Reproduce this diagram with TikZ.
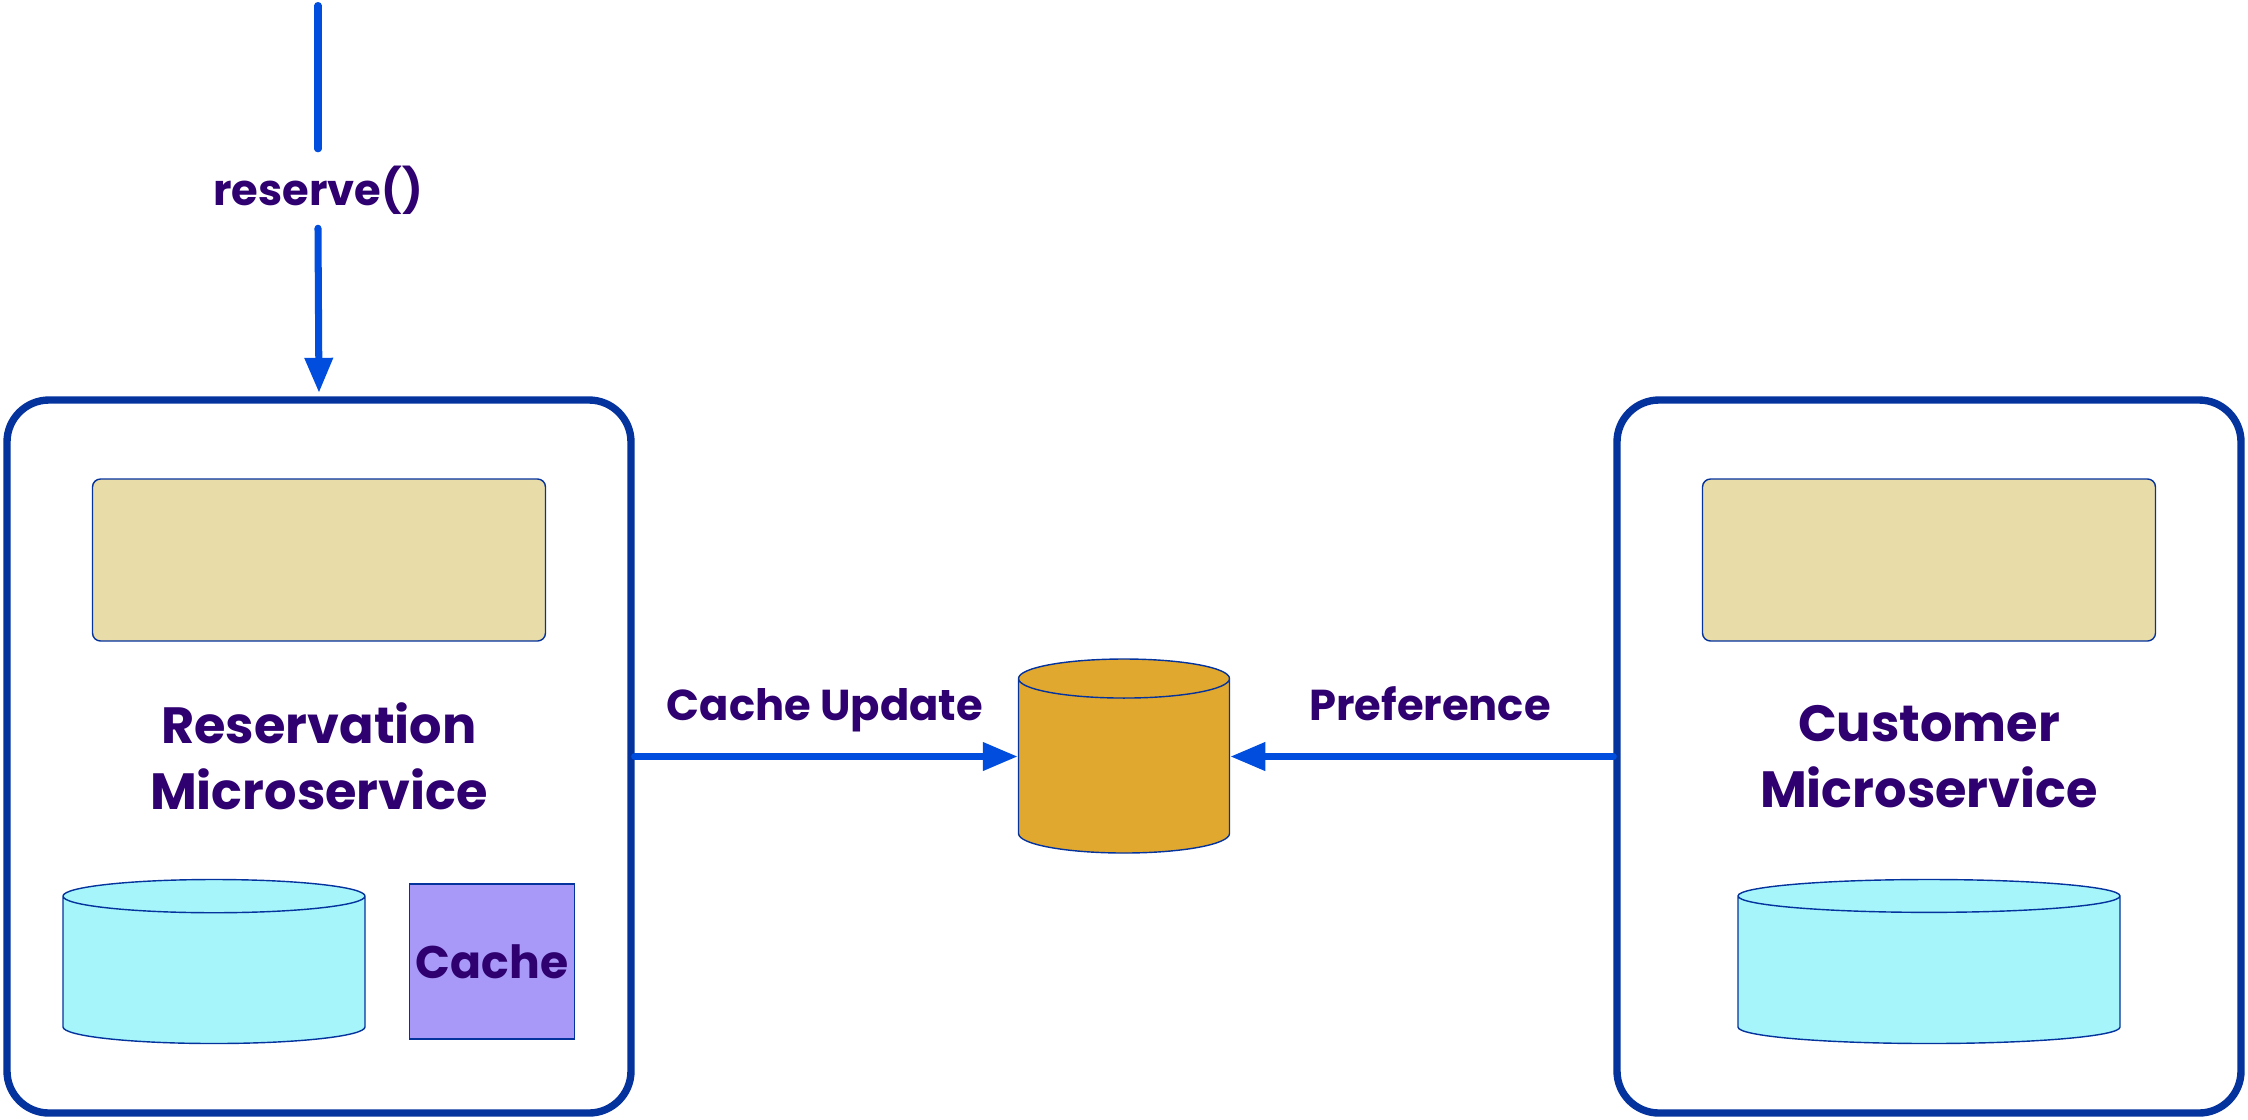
\documentclass[tikz,border=0pt]{standalone}
\usepackage{fontspec}
\setmainfont{Poppins}
\usetikzlibrary{arrows.meta,positioning,calc,shapes.geometric}
\definecolor{svcframe}{RGB}{5,51,158}
\definecolor{svcflow}{RGB}{0,77,222}
\definecolor{svcink}{RGB}{46,0,112}
\definecolor{svctan}{RGB}{232,220,168}
\definecolor{svcdb}{RGB}{165,245,250}
\definecolor{svccache}{RGB}{168,152,248}
\definecolor{svcstore}{RGB}{225,168,48}
\tikzset{
  svcbox/.style={
    rectangle,
    draw=svcframe,
    fill=white,
    line width=2.1pt,
    rounded corners=4.2mm,
    minimum width=6.24cm,
    minimum height=7.13cm,
    inner sep=0pt,
    align=center,
    text=svcink,
    font=\fontsize{14.5}{18.8}\selectfont\bfseries
  },
  svcpanel/.style={
    rectangle,
    draw=svcframe,
    fill=svctan,
    line width=0.4pt,
    rounded corners=0.8mm,
    minimum width=4.53cm,
    minimum height=1.62cm,
    inner sep=0pt
  },
  svcdata/.style={
    cylinder,
    shape border rotate=90,
    anchor=shape center,
    draw=svcframe,
    fill=svcdb,
    line width=0.4pt,
    inner sep=0pt
  },
  svccachebox/.style={
    rectangle,
    draw=svcframe,
    fill=svccache,
    line width=0.4pt,
    minimum width=1.65cm,
    minimum height=1.55cm,
    inner sep=0pt,
    text=svcink,
    font=\fontsize{13}{15}\selectfont\bfseries
  },
  svclabel/.style={
    text=svcink,
    inner sep=0pt,
    font=\fontsize{12.3}{15}\selectfont\bfseries
  },
  svcarrow/.style={
    -{Triangle[length=3.5mm,width=2.7mm]},
    line width=2pt,
    line cap=round,
    draw=svcflow
  },
  svcline/.style={
    line width=2pt,
    line cap=round,
    draw=svcflow
  }
}

\begin{document}
\begin{tikzpicture}[node distance=5mm and 5mm]
  \useasboundingbox (0,0) rectangle (22.48,-11.19);

  \node[svcbox] (resv) at (3.19,-7.565) {Reservation\\Microservice};
  \node[svcbox] (cust) at (19.29,-7.565) {Customer\\Microservice};

  \node[svcpanel] (resvpanel) at (3.19,-5.60) {};
  \node[svcpanel] (custpanel) at (19.29,-5.60) {};

  % the empty text width sets each drum's diameter
  \node[svcdata,text width=3.02cm,minimum height=1.64cm,aspect=0.11] (resvdb) at (2.14,-9.615) {};
  \node[svccachebox] (cache) at (4.92,-9.615) {Cache};
  \node[svcdata,text width=3.82cm,minimum height=1.64cm,aspect=0.086] (custdb) at (19.29,-9.615) {};

  \node[svcdata,fill=svcstore,text width=2.11cm,minimum height=1.94cm,aspect=0.185] (store) at (11.24,-7.56) {};

  % the incoming call is split by its label
  \coordinate (caller) at (3.18,-0.055);
  \node[svclabel,anchor=base,text height=5.55mm,text depth=2.25mm] (reservecall) at (3.18,-2.05) {reserve()};
  \draw[svcline] (caller) -- (reservecall.north);
  \draw[svcarrow,shorten >=0.35mm] (reservecall.south) -- (resv.north);

  \node[svclabel,anchor=base] (updlabel) at (8.25,-7.20) {Cache Update};
  \node[svclabel,anchor=base] (preflabel) at (14.30,-7.20) {Preference};
  \draw[svcarrow] (resv.east) -- (resv.east -| store.west);
  \draw[svcarrow] (cust.west) -- (cust.west -| store.east);
\end{tikzpicture}
\end{document}
